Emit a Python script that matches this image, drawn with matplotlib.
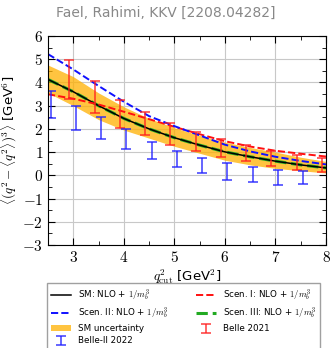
import matplotlib
matplotlib.use("Agg")
import matplotlib.pyplot as plt
import matplotlib.ticker as mticker
import numpy as np

plt.rcParams.update({
    "mathtext.fontset": "cm",
    "font.family": "DejaVu Sans",
})

# ── Data ───────────────────────────────────────────────────────────────────────
q2 = [2.5, 3.0, 3.5, 4.0, 4.5, 5.0, 5.5, 6.0, 6.5, 7.0, 7.5, 8.0]
sm = [4.13, 3.6, 3.0, 2.45, 2.0, 1.62, 1.3, 1.01, 0.8, 0.61, 0.45, 0.32]
sm_hi = [4.75, 4.25, 3.55, 2.95, 2.45, 2.05, 1.72, 1.43, 1.2, 1.0, 0.78, 0.6]
sm_lo = [3.55, 3.0, 2.4, 1.95, 1.6, 1.25, 0.95, 0.65, 0.45, 0.3, 0.2, 0.1]
scen1 = [3.49, 3.3, 3.05, 2.74, 2.42, 2.09, 1.77, 1.47, 1.24, 1.06, 0.93, 0.81]
scen2 = [5.22, 4.56, 3.85, 3.17, 2.55, 2.12, 1.72, 1.32, 1.03, 0.8, 0.62, 0.47]
scen3 = [4.13, 3.6, 3.0, 2.45, 2.0, 1.62, 1.3, 1.01, 0.8, 0.61, 0.45, 0.32]

belle_x = [2.92, 3.42, 3.92, 4.42, 4.92, 5.42, 5.92, 6.42, 6.92, 7.42, 7.92]
belle_lo = [3.27, 2.69, 2.05, 1.73, 1.30, 1.05, 0.77, 0.62, 0.40, 0.25, 0.14]
belle_hi = [4.97, 4.06, 3.24, 2.74, 2.24, 1.88, 1.55, 1.30, 1.06, 0.87, 0.73]

belle2_x = [2.55, 3.05, 3.55, 4.05, 4.55, 5.05, 5.55, 6.05, 6.55, 7.05, 7.55]
belle2_lo = [2.45, 1.95, 1.56, 1.13, 0.69, 0.37, 0.09, -0.18, -0.29, -0.42, -0.39]
belle2_hi = [3.64, 3.00, 2.52, 1.99, 1.44, 1.06, 0.76, 0.51, 0.37, 0.22, 0.19]


def center_err(lo, hi):
    lo, hi = np.array(lo), np.array(hi)
    return (lo + hi) / 2, (hi - lo) / 2


fig = plt.figure(figsize=(3.31, 3.48), dpi=100)
ax = fig.add_axes([48 / 331, 1 - 245 / 348, 278 / 331, 209 / 348])

band = ax.fill_between(q2, sm_lo, sm_hi, color="#FFB000", alpha=0.75, lw=0,
                       label="SM uncertainty")
l3, = ax.plot(q2, scen3, "--", color="#22AA22", lw=2.2,
              label=r"Scen. III: NLO + $1/m_b^3$")
l0, = ax.plot(q2, sm, "-", color="black", lw=1.1, label=r"SM: NLO + $1/m_b^3$")
l1, = ax.plot(q2, scen1, "--", color="#FF1010", lw=1.4,
              label=r"Scen. I: NLO + $1/m_b^3$")
l2, = ax.plot(q2, scen2, "--", color="#1010FF", lw=1.4,
              label=r"Scen. II: NLO + $1/m_b^3$")

yc, ye = center_err(belle_lo, belle_hi)
e1 = ax.errorbar(belle_x, yc, yerr=ye, fmt="none", ecolor="#FF2020", alpha=0.75,
                 elinewidth=1.3, capsize=3.5, capthick=1.3, label="Belle 2021")
yc2, ye2 = center_err(belle2_lo, belle2_hi)
e2 = ax.errorbar(belle2_x, yc2, yerr=ye2, fmt="none", ecolor="#2020FF", alpha=0.75,
                 elinewidth=1.3, capsize=3.5, capthick=1.3, label="Belle-II 2022")

ax.set_xlim(2.5, 8)
ax.set_ylim(-3, 6)
ax.xaxis.set_major_locator(mticker.MultipleLocator(1))
ax.xaxis.set_minor_locator(mticker.MultipleLocator(0.5))
ax.yaxis.set_major_locator(mticker.MultipleLocator(1))
ax.yaxis.set_minor_locator(mticker.MultipleLocator(0.5))
fmt = mticker.FuncFormatter(lambda v, p: f"${v:g}$")
ax.xaxis.set_major_formatter(fmt)
ax.yaxis.set_major_formatter(fmt)
ax.tick_params(which="both", direction="in", top=True, right=True, labelsize=11)
ax.tick_params(which="major", length=5)
ax.tick_params(which="minor", length=3)
ax.grid(True, which="major", color="#c8c8c8", lw=0.8)
ax.set_axisbelow(True)

ax.set_xlabel(r"$q^2_{\rm cut}$ [GeV$^2$]", fontsize=9.5, labelpad=2)
ax.set_ylabel(r"$\langle(q^2-\langle q^2\rangle)^3\rangle$ [GeV$^6$]",
              fontsize=9.5, labelpad=2)

fig.text(0.5, 1 - 13 / 348, "Fael, Rahimi, KKV [2208.04282]", ha="center",
         va="center", color="#888888", fontsize=10)

handles = [l0, l2, band, e2, l1, l3, e1]
fig.legend(handles, [h.get_label() for h in handles], loc="upper left",
           bbox_to_anchor=(47 / 331, 1 - 283 / 348), ncol=2, fontsize=6.3,
           frameon=True, fancybox=False, edgecolor="#888888",
           handlelength=2.2, handletextpad=0.8, columnspacing=3.2,
           labelspacing=0.35, borderaxespad=0, borderpad=0.5, shadow=False)

fig.savefig("out.png", dpi=100)
